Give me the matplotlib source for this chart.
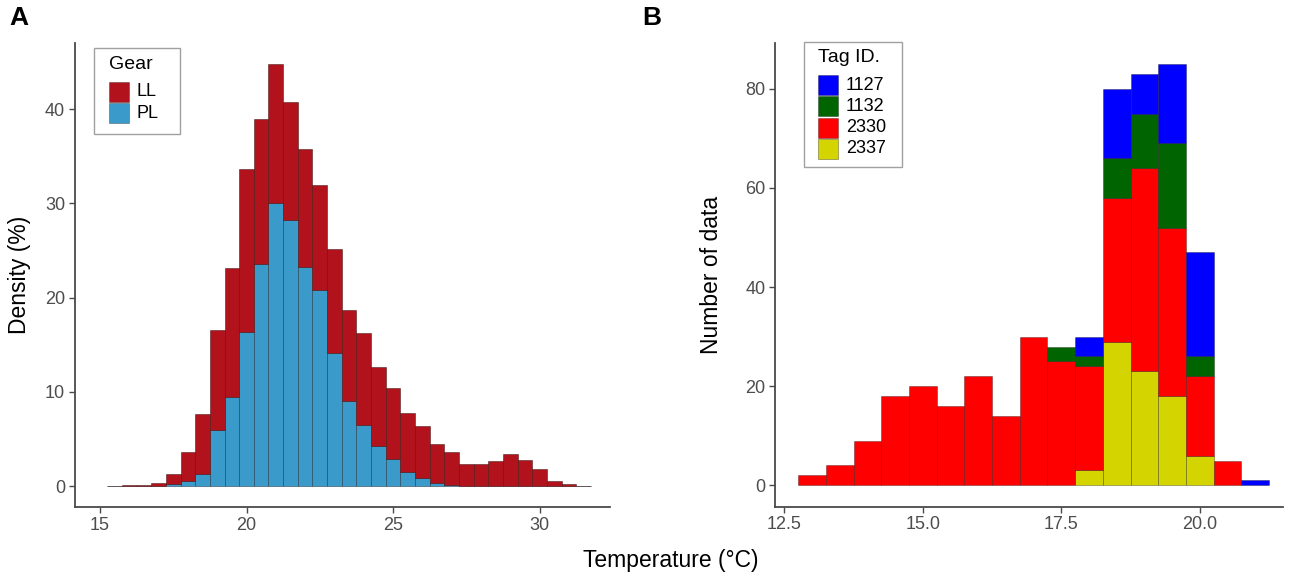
import matplotlib
matplotlib.use('Agg')
import matplotlib.pyplot as plt
from matplotlib.patches import Rectangle
import numpy as np

plt.rcParams['font.family'] = ['Liberation Sans', 'DejaVu Sans']

# Panel A: stacked density histogram (%) by gear, 0.5 degree bins
temp_a = [15.5, 16.0, 16.5, 17.0, 17.5, 18.0, 18.5, 19.0, 19.5, 20.0, 20.5,
          21.0, 21.5, 22.0, 22.5, 23.0, 23.5, 24.0, 24.5, 25.0, 25.5, 26.0,
          26.5, 27.0, 27.5, 28.0, 28.5, 29.0, 29.5, 30.0, 30.5, 31.0, 31.5]
pl_density = [0, 0, 0.02, 0.05, 0.25, 0.53, 1.35, 6.0, 9.5, 16.4, 23.6,
              30.05, 28.2, 23.3, 20.8, 14.1, 9.0, 6.5, 4.25, 2.9, 1.5, 0.85,
              0.3, 0.15, 0, 0, 0, 0, 0, 0, 0, 0, 0]
ll_density = [0.05, 0.1, 0.1, 0.31, 1.05, 3.07, 6.35, 10.6, 13.6, 17.2, 15.3,
              14.75, 12.6, 12.5, 11.1, 11.1, 9.7, 9.8, 8.35, 7.5, 6.3, 5.55,
              4.15, 3.5, 2.4, 2.35, 2.7, 3.45, 2.8, 1.85, 0.6, 0.2, 0.05]
gear_labels = ['LL', 'PL']
gear_colors = ['#B2121B', '#3A9BCB']

# Panel B: stacked counts by tag, 0.5 degree bins
temp_b = [13.0, 13.5, 14.0, 14.5, 15.0, 15.5, 16.0, 16.5, 17.0, 17.5, 18.0,
          18.5, 19.0, 19.5, 20.0, 20.5, 21.0]
tag_2337 = [0, 0, 0, 0, 0, 0, 0, 0, 0, 0, 3, 29, 23, 18, 6, 0, 0]
tag_2330 = [2, 4, 9, 18, 20, 16, 22, 14, 30, 25, 21, 29, 41, 34, 16, 5, 0]
tag_1132 = [0, 0, 0, 0, 0, 0, 0, 0, 0, 3, 2, 8, 11, 17, 4, 0, 0]
tag_1127 = [0, 0, 0, 0, 0, 0, 0, 0, 0, 0, 4, 14, 8, 16, 21, 0, 1]
tag_labels = ['1127', '1132', '2330', '2337']
tag_colors = ['#0000FF', '#006400', '#FF0000', '#D4D400']

bin_w = 0.5
tick_col = '#4D4D4D'
spine_col = '#4A4A4A'
W, H = 1299, 577


def style_axes(ax):
    for side in ['top', 'right']:
        ax.spines[side].set_visible(False)
    for side in ['left', 'bottom']:
        ax.spines[side].set_color(spine_col)
        ax.spines[side].set_linewidth(1.3)
    ax.tick_params(colors=spine_col, labelcolor=tick_col, labelsize=13,
                   length=4, width=1, pad=3)


def fig_rect(x0, y0, x1, y1, **kw):
    '''Rectangle given in pixels from the top-left corner of the figure.'''
    return Rectangle((x0 / W, 1 - y1 / H), (x1 - x0) / W, (y1 - y0) / H,
                     transform=fig.transFigure, **kw)


def px_legend(labels, colors, title, box, key_xy, key=20, pitch=21.3):
    x0, y0, x1, y1 = box
    fig.patches.append(fig_rect(x0, y0, x1, y1, facecolor='white',
                                edgecolor='#A0A0A0', linewidth=1.0, zorder=4))
    kx, ky = key_xy
    fig.text(kx / W, 1 - (ky - 17) / H, title, fontsize=14,
             ha='left', va='center', zorder=6)
    for i, (lab, col) in enumerate(zip(labels, colors)):
        top = ky + i * pitch
        fig.patches.append(fig_rect(kx, top, kx + key, top + key,
                                    facecolor=col, edgecolor=(0, 0, 0, 0.35),
                                    linewidth=0.6, zorder=5))
        fig.text((kx + key + 7.5) / W, 1 - (top + key / 2) / H, lab,
                 fontsize=13, ha='left', va='center', zorder=6)


fig = plt.figure(figsize=(12.99, 5.77), dpi=100)
ax_a = fig.add_axes([0.0577, 0.1213, 0.412, 0.804])
ax_b = fig.add_axes([0.5966, 0.122, 0.391, 0.803])

# --- Panel A
pl = np.array(pl_density)
ll = np.array(ll_density)
ax_a.bar(temp_a, pl, width=bin_w, color=gear_colors[1],
         edgecolor=(0.1, 0.15, 0.2, 0.55), linewidth=0.6)
ax_a.bar(temp_a, ll, width=bin_w, bottom=pl, color=gear_colors[0],
         edgecolor=(0.2, 0.05, 0.05, 0.55), linewidth=0.6)
ax_a.set_xlim(14.15, 32.4)
ax_a.set_ylim(-2.2, 47)
ax_a.set_xticks([15, 20, 25, 30])
ax_a.set_yticks([0, 10, 20, 30, 40])
style_axes(ax_a)

px_legend(gear_labels, gear_colors, 'Gear',
          (94.3, 48.3, 179.7, 134), (109.3, 81.7))

# --- Panel B
bottom = np.zeros(len(temp_b))
stack = [(tag_2337, tag_colors[3]), (tag_2330, tag_colors[2]),
         (tag_1132, tag_colors[1]), (tag_1127, tag_colors[0])]
for values, col in stack:
    vals = np.array(values, dtype=float)
    mask = vals > 0
    ax_b.bar(np.array(temp_b)[mask], vals[mask], width=bin_w,
             bottom=bottom[mask], color=col,
             edgecolor=(0, 0, 0, 0.35), linewidth=0.6)
    bottom += vals
ax_b.set_xlim(12.33, 21.5)
ax_b.set_ylim(-4.3, 89.2)
ax_b.set_xticks([12.5, 15.0, 17.5, 20.0])
ax_b.set_xticklabels(['12.5', '15.0', '17.5', '20.0'])
ax_b.set_yticks([0, 20, 40, 60, 80])
style_axes(ax_b)

px_legend(tag_labels, tag_colors, 'Tag ID.',
          (804, 42.3, 901.7, 166.7), (818.3, 75))

# --- shared labels
fig.text(671 / W, 1 - 561 / H, 'Temperature (°C)', ha='center',
         va='center', fontsize=16.5)
fig.text(20 / W, 1 - 275 / H, 'Density (%)', rotation=90, ha='center',
         va='center', fontsize=16.5)
fig.text(711 / W, 1 - 275 / H, 'Number of data', rotation=90,
         ha='center', va='center', fontsize=16.5)
fig.text(19 / W, 1 - 18 / H, 'A', fontweight='bold', fontsize=19,
         ha='center', va='center')
fig.text(652 / W, 1 - 18 / H, 'B', fontweight='bold', fontsize=19,
         ha='center', va='center')

fig.savefig('out.png', dpi=100)
